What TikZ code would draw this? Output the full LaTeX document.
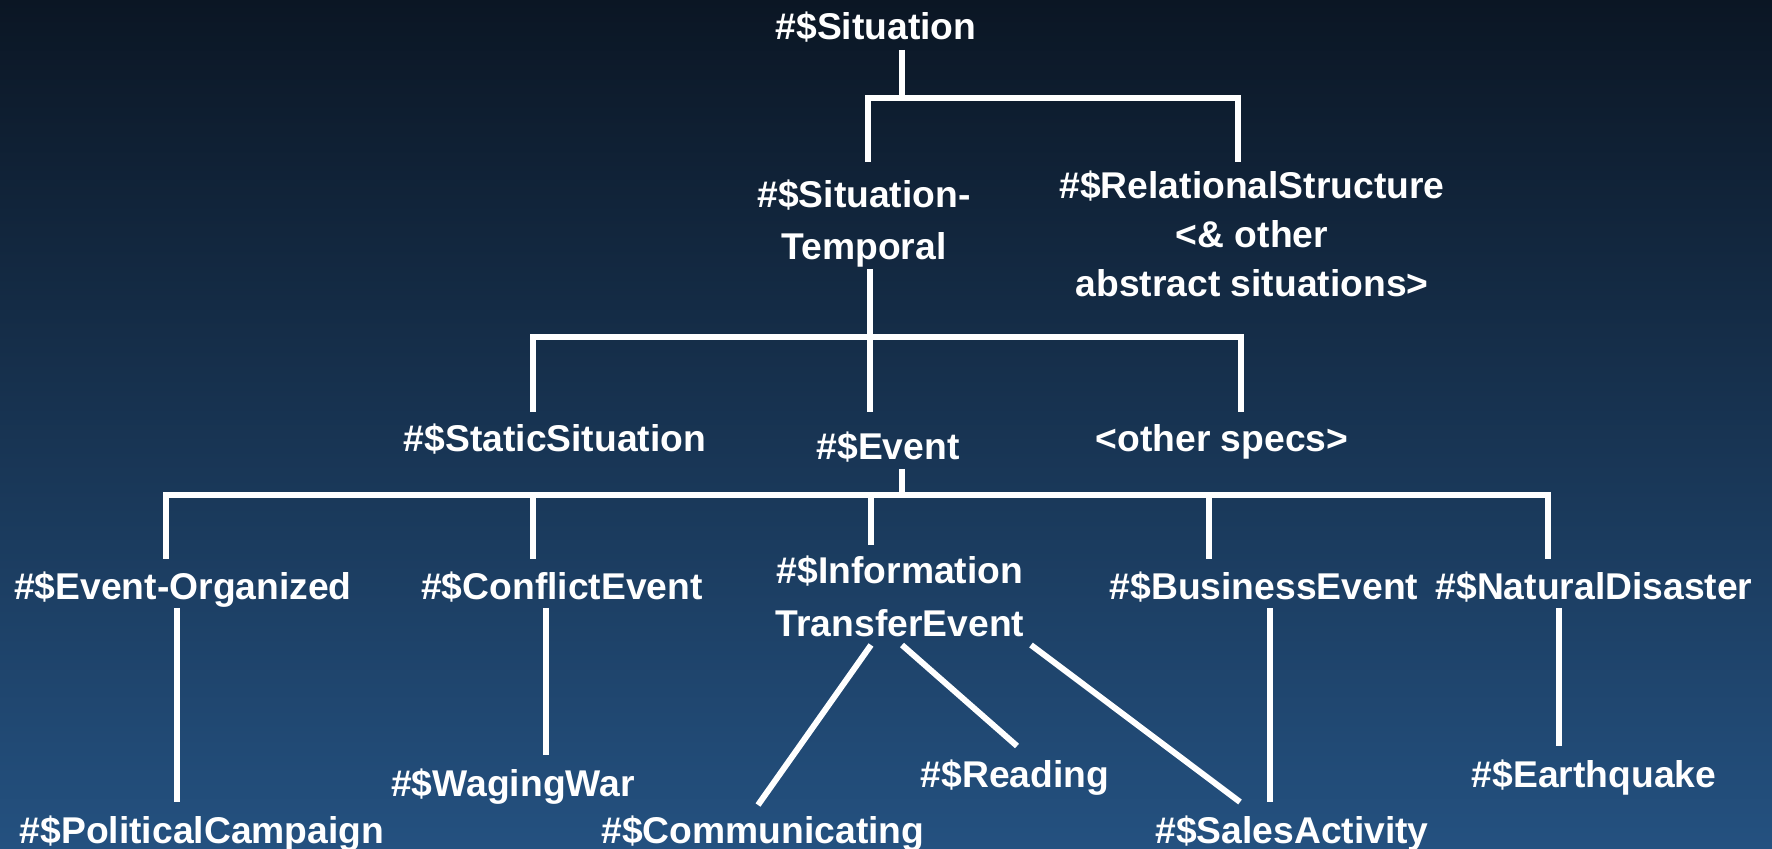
\documentclass[tikz,border=0pt]{standalone}
\usepackage{fontspec}
\setmainfont{Liberation Sans}
\definecolor{bgtop}{RGB}{11,22,36}
\definecolor{bgmid}{RGB}{26,54,88}
\definecolor{bgbot}{RGB}{36,81,128}
\tikzset{link/.style={draw=white,line width=1.7pt}}
\begin{document}
\begin{tikzpicture}[x=0.1mm,y=-0.1mm,
				every node/.style={text=white,anchor=base,inner sep=0pt,align=center,
					font=\fontsize{10.6pt}{14.8pt}\selectfont\bfseries}]
\useasboundingbox (0,0) rectangle (1772,849);
\shade[top color=bgtop,middle color=bgmid,bottom color=bgbot] (0,0) rectangle (1772,849);

% nodes (base = last line)
\node (sit) at (876,40) {\#\$Situation};
\node (temp) at (864,260) {\#\$Situation-\\Temporal};
\node[font=\fontsize{10.6pt}{14pt}\selectfont\bfseries] (rel) at (1252,297)
	{\#\$RelationalStructure\\<\& other\\abstract situations>};
\node (stat) at (555,452) {\#\$StaticSituation};
\node (ev) at (888,460) {\#\$Event};
\node (oth) at (1222,452) {<other specs>};
\node (org) at (183,600) {\#\$Event-Organized};
\node (conf) at (562,600) {\#\$ConflictEvent};
\node (info) at (900,636) {\#\$Information\\TransferEvent};
\node (bus) at (1264,600) {\#\$BusinessEvent};
\node (nat) at (1594,600) {\#\$NaturalDisaster};
\node (pol) at (202,843) {\#\$PoliticalCampaign};
\node (wag) at (513,796) {\#\$WagingWar};
\node (comm) at (763,843) {\#\$Communicating};
\node (read) at (1015,787) {\#\$Reading};
\node (sales) at (1292,843) {\#\$SalesActivity};
\node (quake) at (1594,787) {\#\$Earthquake};

% top level
\draw[link] ([shift={(26,10)}]sit.base) -- ++(0,48) coordinate (bar1);
\draw[link] ([shift={(4,-98)}]temp.base) |- (bar1) -| ([shift={(-14,-135)}]rel.base);

% temporal
\draw[link] ([shift={(6,9)}]temp.base) -- ([shift={(-18,-48)}]ev.base);
\coordinate (bar2) at (870,337);
\draw[link] ([shift={(-22,-40)}]stat.base) |- (bar2) -| ([shift={(19,-40)}]oth.base);

% events
\draw[link] ([shift={(14,9)}]ev.base) -- ++(0,26) coordinate (bar3);
\draw[link] ([shift={(-17,-41)}]org.base) |- (bar3) -| ([shift={(-46,-41)}]nat.base);
\draw[link] ([shift={(-29,-41)}]conf.base) -- ++(0,-64);
\draw[link] ([shift={(-29,-91)}]info.base) -- ++(0,-50);
\draw[link] ([shift={(-55,-41)}]bus.base) -- ++(0,-64);

% leaves
\draw[link] ([shift={(-6,8)}]org.base) -- ([shift={(-25,-41)}]pol.base);
\draw[link] ([shift={(-16,8)}]conf.base) -- ([shift={(33,-41)}]wag.base);
\draw[link] ([shift={(-29,9)}]info.base) -- ([shift={(-5,-38)}]comm.base);
\draw[link] ([shift={(2,9)}]info.base) -- ([shift={(2,-41)}]read.base);
\draw[link] ([shift={(131,9)}]info.base) -- ([shift={(-52,-41)}]sales.base);
\draw[link] ([shift={(6,8)}]bus.base) -- ([shift={(-22,-41)}]sales.base);
\draw[link] ([shift={(-35,8)}]nat.base) -- ([shift={(-35,-41)}]quake.base);
\end{tikzpicture}
\end{document}
